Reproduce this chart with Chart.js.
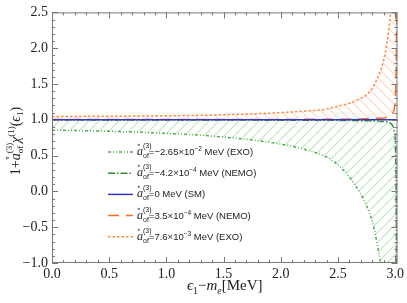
<!DOCTYPE html>
<html>
<head>
<meta charset="utf-8">
<script src="https://cdn.jsdelivr.net/npm/chart.js@4.4.0/dist/chart.umd.min.js"></script>
<style>
html, body { margin: 0; padding: 0; background: #fff; }
</style>
</head>
<body>
<canvas id="chart" width="407" height="303"></canvas>
<script>
// Energie cinetique de l'electron (MeV)
const energies = [0, 0.5, 1.0, 1.5, 2.0, 2.2, 2.4, 2.5, 2.6, 2.7, 2.75, 2.8, 2.85, 2.88, 2.9, 2.93, 2.96, 2.98, 2.99, 3.0, 3.005, 3.01, 3.015, 3.02];

// Courbes 1 + a_of chi(eps)
const exoNeg  = [0.855, 0.84, 0.81, 0.76, 0.66, 0.59, 0.48, 0.37, 0.2, -0.04, -0.2, -0.42, -0.8, -1.1, -1.35, -1.9, -2.6, -3.2, -3.6, -4, -4.2, -4.4, -4.6, -4.8];
const nemoNeg = [0.998, 0.997, 0.997, 0.996, 0.995, 0.994, 0.993, 0.992, 0.99, 0.988, 0.986, 0.984, 0.98, 0.977, 0.975, 0.968, 0.95, 0.91, 0.85, 0.72, 0.45, -0.5, -2.5, -4];
const smLine  = [1, 1, 1, 1, 1, 1, 1, 1, 1, 1, 1, 1, 1, 1, 1, 1, 1, 1, 1, 1, 1, 1, 1, 1];
const nemoPos = [1.003, 1.003, 1.004, 1.004, 1.005, 1.006, 1.007, 1.008, 1.01, 1.012, 1.014, 1.016, 1.02, 1.023, 1.026, 1.035, 1.055, 1.09, 1.14, 1.26, 1.45, 1.9, 3.0, 4.5];
const exoPos  = [1.045, 1.05, 1.055, 1.07, 1.1, 1.12, 1.15, 1.19, 1.23, 1.3, 1.35, 1.44, 1.6, 1.72, 1.84, 2.1, 2.5, 2.9, 3.2, 3.5, 3.7, 3.9, 4.1, 4.3];

const xTicks = [0, 0.5, 1.0, 1.5, 2.0, 2.5, 3.0];
const yTicks = [-1.0, -0.5, 0, 0.5, 1.0, 1.5, 2.0, 2.5];

// Legende
const legendValues = ['=\u22122.65\u00d710', '=\u22124.2\u00d710', '=0', '=3.5\u00d710', '=7.6\u00d710'];
const legendExps   = ['\u22122', '\u22124', '', '\u22124', '\u22123'];
const legendTags   = [' MeV (EXO)', ' MeV (NEMO)', ' MeV (SM)', ' MeV (NEMO)', ' MeV (EXO)'];

const SERIF = "'Liberation Serif', 'DejaVu Serif', serif";
const SANS = "'Liberation Sans', Arial, sans-serif";

const colors = ['#4fae4f', '#2e8f2e', '#3636c4', '#ff6a1a', '#ff8a45'];
const dashes = [[3, 2, 1, 2, 1, 2], [7, 2, 1.5, 2], [], [11, 7], [2.5, 2]];

const canvas = document.getElementById('chart');
const ctx = canvas.getContext('2d');

// Motif hachure
function hatch(color, dir) {
    const c = document.createElement('canvas');
    c.width = 10; c.height = 10;
    const g = c.getContext('2d');
    g.strokeStyle = color;
    g.lineWidth = 1.1;
    g.beginPath();
    if (dir > 0) {
        g.moveTo(-1, 11); g.lineTo(11, -1);
        g.moveTo(-1, 1); g.lineTo(1, -1);
        g.moveTo(9, 11); g.lineTo(11, 9);
    } else {
        g.moveTo(-1, -1); g.lineTo(11, 11);
        g.moveTo(9, -1); g.lineTo(11, 1);
        g.moveTo(-1, 9); g.lineTo(1, 11);
    }
    g.stroke();
    return ctx.createPattern(c, 'repeat');
}

function pts(ys) {
    return energies.map((x, i) => ({ x: x, y: ys[i] }));
}

function fmt(v) {
    return Number(v).toFixed(1).replace('-', '\u2212');
}

// Texte riche : suite de morceaux {t, f, dy, dx, noAdv}
function runWidth(g, runs) {
    let w = 0;
    runs.forEach(r => {
        g.font = r.f;
        if (!r.noAdv) w += g.measureText(r.t).width;
    });
    return w;
}
function drawRuns(g, runs, x, y) {
    let cx = x;
    runs.forEach(r => {
        g.font = r.f;
        const m = g.measureText(r.t).width;
        g.fillText(r.t, cx + (r.dx || 0), y + (r.dy || 0));
        if (!r.noAdv) cx += m;
    });
    return cx;
}

const frame = {
    id: 'frame',
    afterDatasetsDraw(chart) {
        const a = chart.chartArea;
        const sx = chart.scales.x, sy = chart.scales.y;
        const g = chart.ctx;
        g.save();
        g.strokeStyle = '#777';
        g.lineWidth = 1;
        g.strokeRect(a.left + 0.5, a.top + 0.5, a.right - a.left - 1, a.bottom - a.top - 1);
        g.beginPath();
        for (let i = 0; i <= 30; i++) {
            const px = Math.round(sx.getPixelForValue(i / 10)) + 0.5;
            const len = i % 5 === 0 ? 6 : 3;
            g.moveTo(px, a.bottom); g.lineTo(px, a.bottom - len);
            g.moveTo(px, a.top); g.lineTo(px, a.top + len);
        }
        for (let i = -10; i <= 25; i++) {
            const py = Math.round(sy.getPixelForValue(i / 10)) + 0.5;
            const len = i % 5 === 0 ? 6 : 3;
            g.moveTo(a.left, py); g.lineTo(a.left + len, py);
            g.moveTo(a.right, py); g.lineTo(a.right - len, py);
        }
        g.stroke();

        // titres des axes
        g.fillStyle = '#222';
        g.textBaseline = 'alphabetic';
        const big = '15px ' + SERIF, bigI = 'italic 15px ' + SERIF;
        const sm = '10px ' + SERIF, smI = 'italic 10px ' + SERIF;
        const xRuns = [
            { t: '\u03f5', f: bigI }, { t: '1', f: sm, dy: 4 },
            { t: '\u2212', f: big }, { t: 'm', f: bigI }, { t: 'e', f: smI, dy: 4 },
            { t: '[MeV]', f: big }
        ];
        const xw = runWidth(g, xRuns);
        drawRuns(g, xRuns, (a.left + a.right) / 2 - xw / 2, 290);

        const yb = '14px ' + SERIF, ybI = 'italic 14px ' + SERIF;
        const ys = '9px ' + SERIF;
        const yRuns = [
            { t: '1+', f: yb }, { t: 'a', f: ybI },
            { t: '\u2218', f: ys, dy: -10, dx: -7, noAdv: true },
            { t: '(3)', f: ys, dy: -8, noAdv: true }, { t: 'of', f: ys, dy: 3 },
            { t: '\u2009\u03c7', f: ybI }, { t: '(1)', f: ys, dy: -6 },
            { t: '(', f: yb }, { t: '\u03f5', f: ybI }, { t: '1', f: ys, dy: 3 }, { t: ')', f: yb }
        ];
        const yw = runWidth(g, yRuns);
        g.save();
        g.translate(20, 141);
        g.rotate(-Math.PI / 2);
        drawRuns(g, yRuns, -yw / 2, 0);
        g.restore();

        // legende
        for (let i = 0; i < 5; i++) {
            const ry = 152 + i * 21.2;
            g.strokeStyle = colors[i];
            g.lineWidth = 1.5;
            g.setLineDash(dashes[i]);
            g.beginPath();
            g.moveTo(108, ry); g.lineTo(133, ry);
            g.stroke();
            g.setLineDash([]);
            g.fillStyle = '#222';
            const runs = [
                { t: 'a', f: 'italic 12px ' + SERIF },
                { t: '\u2218', f: '7px ' + SERIF, dy: -8, dx: -6, noAdv: true },
                { t: '(3)', f: '7px ' + SANS, dy: -7, noAdv: true },
                { t: 'of', f: '7px ' + SANS, dy: 3 },
                { t: legendValues[i], f: '9.5px ' + SANS }
            ];
            if (legendExps[i]) runs.push({ t: legendExps[i], f: '6.5px ' + SANS, dy: -4 });
            runs.push({ t: legendTags[i], f: '9.5px ' + SANS });
            drawRuns(g, runs, 137, ry + 3);
        }
        g.restore();
    }
};

const greenHatch = hatch('#bfe4bf', 1);
const orangeHatch = hatch('#ffd5bf', -1);

function ds(data, i, extra) {
    return Object.assign({
        data: pts(data),
        borderColor: colors[i],
        borderDash: dashes[i],
        borderWidth: 1.5,
        pointRadius: 0,
        cubicInterpolationMode: 'monotone',
        fill: false
    }, extra || {});
}

new Chart(ctx, {
    type: 'line',
    data: {
        datasets: [
            ds(exoNeg, 0, { fill: '+1', backgroundColor: greenHatch }),
            ds(nemoNeg, 1),
            ds(smLine, 2, { order: -1 }),
            ds(nemoPos, 3),
            ds(exoPos, 4, { fill: '-1', backgroundColor: orangeHatch })
        ]
    },
    options: {
        responsive: false,
        animation: false,
        layout: { padding: { left: 0, right: 8, top: 7, bottom: 0 } },
        plugins: { legend: { display: false }, tooltip: { enabled: false } },
        scales: {
            x: {
                type: 'linear', min: 0, max: 3.02,
                grid: { display: false, drawTicks: false },
                border: { display: false },
                afterFit: s => { s.height = 40; },
                afterBuildTicks: s => { s.ticks = xTicks.map(v => ({ value: v })); },
                ticks: { padding: 3, autoSkip: false, maxRotation: 0, color: '#222', font: { family: SERIF, size: 14 }, callback: fmt }
            },
            y: {
                min: -1, max: 2.5,
                grid: { display: false, drawTicks: false },
                border: { display: false },
                afterFit: s => { s.width = 52; },
                afterBuildTicks: s => { s.ticks = yTicks.map(v => ({ value: v })); },
                ticks: { padding: 4, color: '#222', font: { family: SERIF, size: 14 }, callback: fmt }
            }
        }
    },
    plugins: [frame]
});
</script>
</body>
</html>
